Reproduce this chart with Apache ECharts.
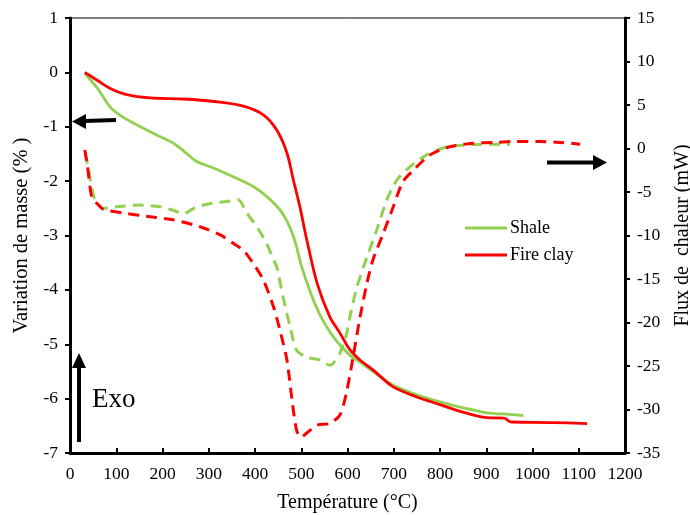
<!DOCTYPE html>
<html><head><meta charset="utf-8">
<script src="https://cdn.jsdelivr.net/npm/echarts@6/dist/echarts.min.js"></script>
<style>html,body{margin:0;padding:0;background:#fff}#c{width:690px;height:515px}</style>
</head><body><div id="c"></div>
<script>
// ---- Data ----
const xTicks = [0,100,200,300,400,500,600,700,800,900,1000,1100,1200];
const leftTicks = [-7,-6,-5,-4,-3,-2,-1,0,1];
const rightTicks = [-35,-30,-25,-20,-15,-10,-5,0,5,10,15];

// TG (mass variation, %)
const shaleTgT = [32,60,86,110,137,180,223,252,274,310,353,396,425,454,475,488,500,520,540,569,605,627,655,698,750,800,850,901,950,980];
const shaleTgV = [-0.02,-0.3,-0.63,-0.8,-0.93,-1.12,-1.3,-1.49,-1.64,-1.76,-1.92,-2.1,-2.28,-2.53,-2.84,-3.15,-3.55,-4.05,-4.45,-4.86,-5.2,-5.33,-5.5,-5.75,-5.93,-6.06,-6.17,-6.26,-6.29,-6.31];
const clayTgT = [32,58,86,123,173,245,317,375,418,447,469,483,497,512,535,562,584,605,627,655,698,750,800,850,901,939,950,956,1045,1118];
const clayTgV = [0,-0.14,-0.29,-0.41,-0.47,-0.49,-0.54,-0.62,-0.78,-1.06,-1.48,-1.98,-2.47,-3.08,-3.9,-4.5,-4.8,-5.1,-5.29,-5.47,-5.78,-5.97,-6.11,-6.25,-6.35,-6.36,-6.42,-6.43,-6.44,-6.46];

// DSC (heat flow, mW)
const shaleDscT = [32,39,47,54,72,101,151,195,223,245,267,296,339,364,382,404,425,440,447,462,476,490,512,540,562,569,584,598,605,620,642,663,685,707,735,771,815,858,908,951];
const shaleDscV = [-0.5,-2.1,-4.5,-5.9,-6.9,-6.7,-6.5,-6.7,-7.1,-7.5,-6.9,-6.4,-6.1,-5.9,-7.4,-9.0,-10.9,-12.8,-13.6,-17.4,-20.5,-23.2,-24.0,-24.3,-24.9,-24.7,-23.5,-21.3,-19.4,-16.0,-12.5,-9.4,-5.9,-3.6,-2.1,-0.75,0.2,0.4,0.5,0.5];
const clayDscT = [32,37,47,58,72,115,166,223,281,324,353,375,396,418,440,454,469,480,490,500,512,534,562,584,598,612,627,642,655,677,699,720,746,778,821,872,923,958,1016,1060,1103];
const clayDscV = [-0.17,-1.7,-5.6,-6.3,-7.0,-7.4,-7.8,-8.2,-9.0,-9.9,-10.9,-11.7,-13.2,-15.1,-18.2,-20.9,-24.3,-28.9,-32.4,-33.2,-32.7,-31.8,-31.6,-30.6,-28.0,-24.0,-19.4,-15.5,-12.8,-9.8,-6.7,-3.8,-2.3,-0.75,0.2,0.6,0.7,0.8,0.8,0.7,0.5];

const seriesNames = ['Shale','Fire clay'];
const green = '#92D050', red = '#FF0000';

function pairs(t, v){ return t.map((x,i)=>[x, v[i]]); }

const font = 'Liberation Serif';
const tickLabel = {fontFamily:font, fontSize:17.5, color:'#000', margin:12, formatter:(v)=>String(v)};
const chart = echarts.init(document.getElementById('c'), null, {renderer:'canvas'});
chart.setOption({
  animation:false,
  backgroundColor:'#fff',
  textStyle:{fontFamily:font},
  grid:{left:70, right:65, top:18, bottom:62, show:true, borderColor:'#000', borderWidth:1, containLabel:false, outerBoundsMode:'none'},
  legend:{
    data:seriesNames, orient:'vertical', left:465, top:219, padding:0,
    icon:'rect', itemWidth:42, itemHeight:3, itemGap:9,
    textStyle:{fontFamily:font, fontSize:18, color:'#000', padding:[0,0,0,-2]}
  },
  xAxis:{
    type:'value', min:xTicks[0], max:xTicks[xTicks.length-1], interval:100,
    name:'Température (°C)', nameLocation:'middle', nameGap:40,
    nameTextStyle:{fontFamily:font, fontSize:20, color:'#000'},
    axisLine:{show:true, onZero:false, lineStyle:{color:'#000', width:3}},
    axisTick:{show:true, inside:true, length:5, lineStyle:{color:'#000', width:2}},
    axisLabel:tickLabel,
    splitLine:{show:false}
  },
  yAxis:[{
    type:'value', min:leftTicks[0], max:leftTicks[leftTicks.length-1], interval:1, position:'left',
    name:'Variation de masse (% )', nameLocation:'middle', nameGap:38, nameRotate:90,
    nameTextStyle:{fontFamily:font, fontSize:20.5, color:'#000'},
    axisLine:{show:true, onZero:false, lineStyle:{color:'#000', width:3}},
    axisTick:{show:true, inside:false, length:5, lineStyle:{color:'#000', width:2}},
    axisLabel:tickLabel,
    splitLine:{show:false}
  },{
    type:'value', min:rightTicks[0], max:rightTicks[rightTicks.length-1], interval:5, position:'right',
    name:'Flux de  chaleur (mW)', nameLocation:'middle', nameGap:48, nameRotate:90,
    nameTextStyle:{fontFamily:font, fontSize:20, color:'#000'},
    axisLine:{show:true, onZero:false, lineStyle:{color:'#000', width:3}},
    axisTick:{show:true, inside:false, length:5, lineStyle:{color:'#000', width:2}},
    axisLabel:tickLabel,
    splitLine:{show:false}
  }],
  series:[
    {name:'Shale DSC', type:'line', yAxisIndex:1, data:pairs(shaleDscT, shaleDscV), smooth:0.25, showSymbol:false,
     lineStyle:{color:green, width:3, type:[11,7]}, itemStyle:{color:green}, z:2},
    {name:'Fire clay DSC', type:'line', yAxisIndex:1, data:pairs(clayDscT, clayDscV), smooth:0.25, showSymbol:false,
     lineStyle:{color:red, width:3, type:[11,7]}, itemStyle:{color:red}, z:3},
    {name:seriesNames[0], type:'line', yAxisIndex:0, data:pairs(shaleTgT, shaleTgV), smooth:0.3, showSymbol:false,
     lineStyle:{color:green, width:2.8}, itemStyle:{color:green}, z:4},
    {name:seriesNames[1], type:'line', yAxisIndex:0, data:pairs(clayTgT, clayTgV), smooth:0.3, showSymbol:false,
     lineStyle:{color:red, width:2.8}, itemStyle:{color:red}, z:5}
  ],
  graphic:[
    {type:'line', shape:{x1:116, y1:120, x2:84, y2:121}, style:{stroke:'#000', lineWidth:4}},
    {type:'polygon', shape:{points:[[72,121.5],[86,114],[86,129]]}, style:{fill:'#000'}},
    {type:'line', shape:{x1:547, y1:162.5, x2:594, y2:162.5}, style:{stroke:'#000', lineWidth:4}},
    {type:'polygon', shape:{points:[[607,162.5],[593,155],[593,170]]}, style:{fill:'#000'}},
    {type:'line', shape:{x1:79, y1:442, x2:79, y2:364}, style:{stroke:'#000', lineWidth:4}},
    {type:'polygon', shape:{points:[[79,353],[72,368],[86,368]]}, style:{fill:'#000'}},
    {type:'text', left:92, top:386, style:{text:'Exo', fontFamily:font, fontSize:27, fill:'#000'}}
  ]
});
</script></body></html>
